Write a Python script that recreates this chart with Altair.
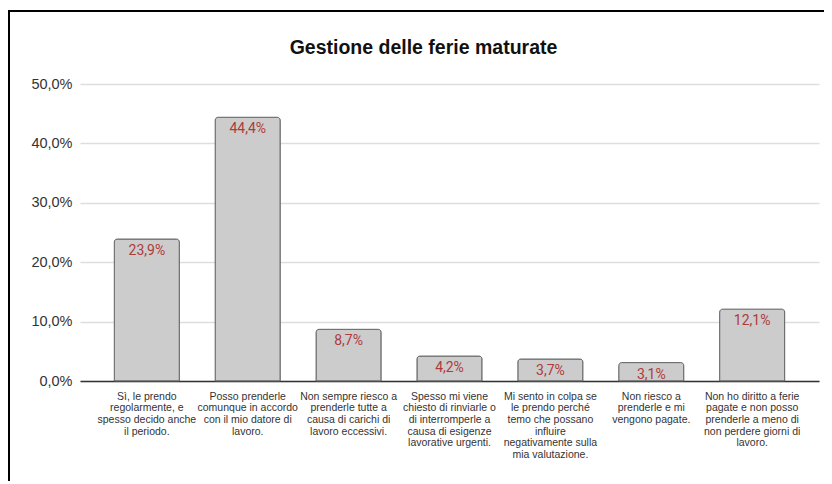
import altair as alt
import pandas as pd

categories = [
    "Sì, le prendo|regolarmente, e|spesso decido anche|il periodo.",
    "Posso prenderle|comunque in accordo|con il mio datore di|lavoro.",
    "Non sempre riesco a|prenderle tutte a|causa di carichi di|lavoro eccessivi.",
    "Spesso mi viene|chiesto di rinviarle o|di interromperle a|causa di esigenze|lavorative urgenti.",
    "Mi sento in colpa se|le prendo perché|temo che possano|influire|negativamente sulla|mia valutazione.",
    "Non riesco a|prenderle e mi|vengono pagate.",
    "Non ho diritto a ferie|pagate e non posso|prenderle a meno di|non perdere giorni di|lavoro.",
]
values = [23.9, 44.4, 8.7, 4.2, 3.7, 3.1, 12.1]
y_ticks = [0, 10, 20, 30, 40, 50]

df = pd.DataFrame({"cat": categories, "val": values})
df["lab"] = [f"{v:.1f}".replace(".", ",") + "%" for v in values]

FONT = "Liberation Sans, Arial, sans-serif"

x_enc = alt.X(
    "cat:N", sort=None, title=None,
    scale=alt.Scale(paddingInner=0.355, paddingOuter=0.34),
    axis=alt.Axis(
        labelAngle=0, labelExpr="split(datum.label, '|')", labelFont=FONT,
        labelFontSize=10.5, labelColor="#333333", labelLineHeight=11.7,
        labelPadding=10, labelLimit=200, ticks=False, domainColor="#333333",
        domainWidth=1.3, labelBaseline="top",
    ),
)
y_enc = alt.Y(
    "val:Q", title=None,
    scale=alt.Scale(domain=[0, 50], nice=False),
    axis=alt.Axis(
        values=y_ticks, labelExpr="replace(format(datum.value, '.1f'), '.', ',') + '%'",
        labelFont=FONT, labelFontSize=14.5, labelColor="#333333", labelPadding=8,
        ticks=False, domain=False, gridColor="#dddddd", gridWidth=1.3,
    ),
)

bars = alt.Chart(df).mark_bar(
    color="#cccccc", stroke="#666666", strokeWidth=1,
    cornerRadiusTopLeft=3, cornerRadiusTopRight=3,
).encode(x=x_enc, y=y_enc)

text = alt.Chart(df).mark_text(
    baseline="top", dy=5, fontSize=14, color="#b03a3a", font="Roboto",
).encode(x=alt.X("cat:N", sort=None), y="val:Q", text="lab:N")

border_top = alt.Chart(df).mark_rule(color="#000000", strokeWidth=2).encode(
    x=alt.value(-72), x2=alt.value(760), y=alt.value(-73)
)
border_left = alt.Chart(df).mark_rule(color="#000000", strokeWidth=2).encode(
    x=alt.value(-71), y=alt.value(-73), y2=alt.value(410)
)

chart = alt.layer(bars, text, border_top, border_left).properties(
    width=739, height=297,
    autosize=alt.AutoSizeParams(type="none"),
    padding={"left": 72, "top": 76, "right": 5, "bottom": 100},
    title=alt.TitleParams(
        "Gestione delle ferie maturate", font=FONT, fontSize=19.5, fontWeight="bold",
        color="#111111", anchor="middle", dx=-26, offset=-48,
    ),
).configure_view(stroke=None)

chart.save("out.html", embed_options={"renderer": "svg", "actions": False})
